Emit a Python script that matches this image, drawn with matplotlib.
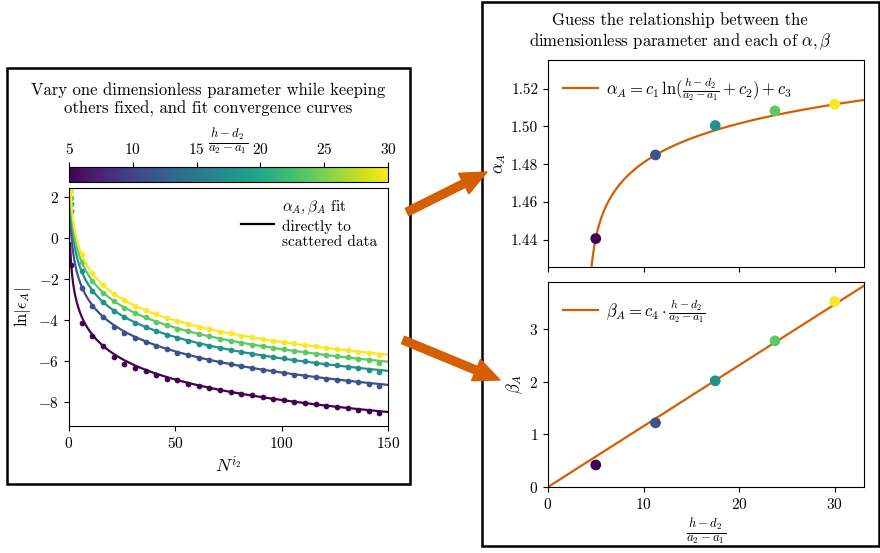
"""Convergence-curve fits and the parameter relationships they suggest."""
import matplotlib

matplotlib.use("Agg")
import matplotlib.pyplot as plt
import numpy as np
from matplotlib.patches import FancyArrow, Rectangle

plt.rcParams.update({
    "font.family": "serif",
    "font.serif": ["cmr10"],
    "mathtext.fontset": "cm",
    "axes.formatter.use_mathtext": True,
    "font.size": 11,
    "axes.linewidth": 0.8,
})

ORANGE = "#d55e00"
FRAC = r"\frac{h-d_2}{a_2-a_1}"

# dimensionless parameter values and fitted exponents
param = [5.0, 11.25, 17.5, 23.75, 30.0]
alpha_A = [1.4405, 1.4849, 1.5005, 1.5083, 1.5118]
beta_A = [0.42, 1.22, 2.02, 2.78, 3.53]

# fit constants for the right-hand relationships
c1, c2, c3 = 0.0208, -4.15, 1.4441
c4 = 0.1158

# scattered convergence data, ln|eps_A| at N = 1, 6, ..., 146
n_points = list(range(1, 150, 5))
err_p5 = [-1.30, -4.14, -4.75, -5.25, -5.77, -6.14, -6.30, -6.47, -6.68, -6.86,
          -6.93, -7.08, -7.19, -7.30, -7.39, -7.47, -7.58, -7.66, -7.73, -7.81,
          -7.88, -7.96, -8.03, -8.08, -8.16, -8.21, -8.28, -8.35, -8.43, -8.53]
err_p11 = [1.33, -2.42, -3.32, -3.85, -4.31, -4.60, -4.85, -5.07, -5.26, -5.42,
           -5.57, -5.70, -5.82, -5.94, -6.05, -6.15, -6.24, -6.33, -6.42, -6.49,
           -6.56, -6.65, -6.70, -6.77, -6.84, -6.90, -6.96, -7.02, -7.09, -7.20]
err_p17 = [1.66, -1.60, -2.56, -3.12, -3.54, -3.86, -4.11, -4.34, -4.53, -4.71,
           -4.86, -5.00, -5.13, -5.25, -5.36, -5.46, -5.55, -5.64, -5.73, -5.81,
           -5.86, -5.94, -6.00, -6.07, -6.13, -6.20, -6.26, -6.33, -6.40, -6.52]
err_p23 = [1.98, -1.17, -2.07, -2.65, -3.06, -3.38, -3.65, -3.86, -4.07, -4.23,
           -4.40, -4.53, -4.67, -4.78, -4.90, -4.99, -5.10, -5.18, -5.27, -5.35,
           -5.41, -5.48, -5.54, -5.62, -5.68, -5.74, -5.80, -5.88, -5.95, -6.08]
err_p30 = [2.30, -0.76, -1.70, -2.28, -2.71, -3.03, -3.29, -3.52, -3.71, -3.88,
           -4.04, -4.19, -4.31, -4.43, -4.55, -4.64, -4.74, -4.83, -4.92, -4.99,
           -5.05, -5.12, -5.20, -5.26, -5.33, -5.40, -5.46, -5.53, -5.60, -5.70]
errors = [err_p5, err_p11, err_p17, err_p23, err_p30]

W, H = 880, 553
fig = plt.figure(figsize=(W / 100, H / 100), dpi=100)


def axes_px(x0, y0, x1, y1):
    return fig.add_axes([x0 / W, 1 - y1 / H, (x1 - x0) / W, (y1 - y0) / H])


cmap = plt.get_cmap("viridis")
norm = matplotlib.colors.Normalize(vmin=5, vmax=30)

# ---- left: convergence curves ----
ax = axes_px(69, 188, 388, 426)
cax = axes_px(69, 167, 388, 182)
n_fine = np.linspace(0.5, 150, 600)
for p, a, b, err in zip(param, alpha_A, beta_A, errors):
    col = cmap(norm(p))
    ax.scatter(n_points, err, s=17, color=col, zorder=2, linewidths=0)
    ax.plot(n_fine, a * (np.log(b) - np.log(n_fine)), color=col, lw=1.6, zorder=2)
ax.plot([], [], color="black", lw=1.6,
        label="$\\alpha_A, \\beta_A$ fit\ndirectly to\nscattered data")
ax.set_xlim(0, 150)
ax.set_ylim(-9.15, 2.45)
ax.set_xticks([0, 50, 100, 150])
ax.set_yticks([-8, -6, -4, -2, 0, 2])
ax.set_xlabel("$N^{i_2}$", fontsize=13, labelpad=3)
ax.set_ylabel(r"$\ln|\epsilon_A|$", fontsize=12)
ax.legend(loc="upper right", frameon=False, handlelength=2.2, fontsize=11,
          handletextpad=0.5, borderaxespad=0.3)

sm = matplotlib.cm.ScalarMappable(norm=norm, cmap=cmap)
cbar = fig.colorbar(sm, cax=cax, orientation="horizontal")
cbar.set_ticks([5, 10, 15, 20, 25, 30])
cax.xaxis.set_ticks_position("top")
cax.xaxis.set_label_position("top")
cbar.set_label(f"${FRAC}$", fontsize=13, labelpad=-3)

fig.text(208 / W, 1 - 100 / H,
         "Vary one dimensionless parameter while keeping\nothers fixed, and fit convergence curves",
         ha="center", va="center", fontsize=12, linespacing=1.2)

# ---- right top: alpha ----
colors = [cmap(norm(p)) for p in param]
ax_a = axes_px(548, 60, 864, 267)
ax_b = axes_px(548, 282, 864, 487)
x_log = np.linspace(4.16, 34, 600)
ax_a.plot(x_log, c1 * np.log(x_log + c2) + c3, color=ORANGE, lw=1.6,
          label=rf"$\alpha_A = c_1\,\ln({FRAC} + c_2) + c_3$")
ax_a.scatter(param, alpha_A, s=60, c=colors, zorder=3, linewidths=0)
ax_a.set_xlim(0, 33.07)
ax_a.set_ylim(1.4254, 1.5353)
ax_a.set_xticks([0, 10, 20, 30])
ax_a.set_xticklabels([])
ax_a.set_yticks([1.44, 1.46, 1.48, 1.50, 1.52])
ax_a.set_yticklabels(["1.44", "1.46", "1.48", "1.50", "1.52"])
ax_a.set_ylabel(r"$\alpha_A$", fontsize=12, labelpad=2)
ax_a.legend(loc="upper left", frameon=False, fontsize=12, handlelength=2.1,
            handletextpad=0.5)

# ---- right bottom: beta ----
x_lin = np.linspace(0, 34, 10)
ax_b.plot(x_lin, c4 * x_lin, color=ORANGE, lw=1.6,
          label=rf"$\beta_A = c_4 \cdot {FRAC}$")
ax_b.scatter(param, beta_A, s=60, c=colors, zorder=3, linewidths=0)
ax_b.set_xlim(0, 33.07)
ax_b.set_ylim(0, 3.9)
ax_b.set_xticks([0, 10, 20, 30])
ax_b.set_yticks([0, 1, 2, 3])
ax_b.set_xlabel(f"${FRAC}$", fontsize=13, labelpad=3)
ax_b.set_ylabel(r"$\beta_A$", fontsize=12, labelpad=3)
ax_b.legend(loc="upper left", frameon=False, fontsize=12, handlelength=2.1,
            handletextpad=0.5)

fig.text(680 / W, 1 - 32 / H,
         "Guess the relationship between the\ndimensionless parameter and each of $\\alpha, \\beta$",
         ha="center", va="center", fontsize=12, linespacing=1.2)

# ---- frames and arrows ----
for x0, y0, x1, y1 in [(7, 68, 410, 484), (482, 2, 879, 546)]:
    fig.patches.append(Rectangle((x0 / W, 1 - y1 / H), (x1 - x0) / W, (y1 - y0) / H,
                                 transform=fig.transFigure, fill=False,
                                 edgecolor="black", lw=1.8, zorder=5))

for (tx, ty), (hx, hy) in [((407, 212), (487, 172)), ((403, 340), (500, 380))]:
    fig.patches.append(FancyArrow(tx / 100, (H - ty) / 100, (hx - tx) / 100, (ty - hy) / 100,
                                  width=0.08, head_width=0.23, head_length=0.26,
                                  length_includes_head=True, color=ORANGE,
                                  transform=fig.dpi_scale_trans, zorder=6))

fig.savefig("out.png", dpi=100)
